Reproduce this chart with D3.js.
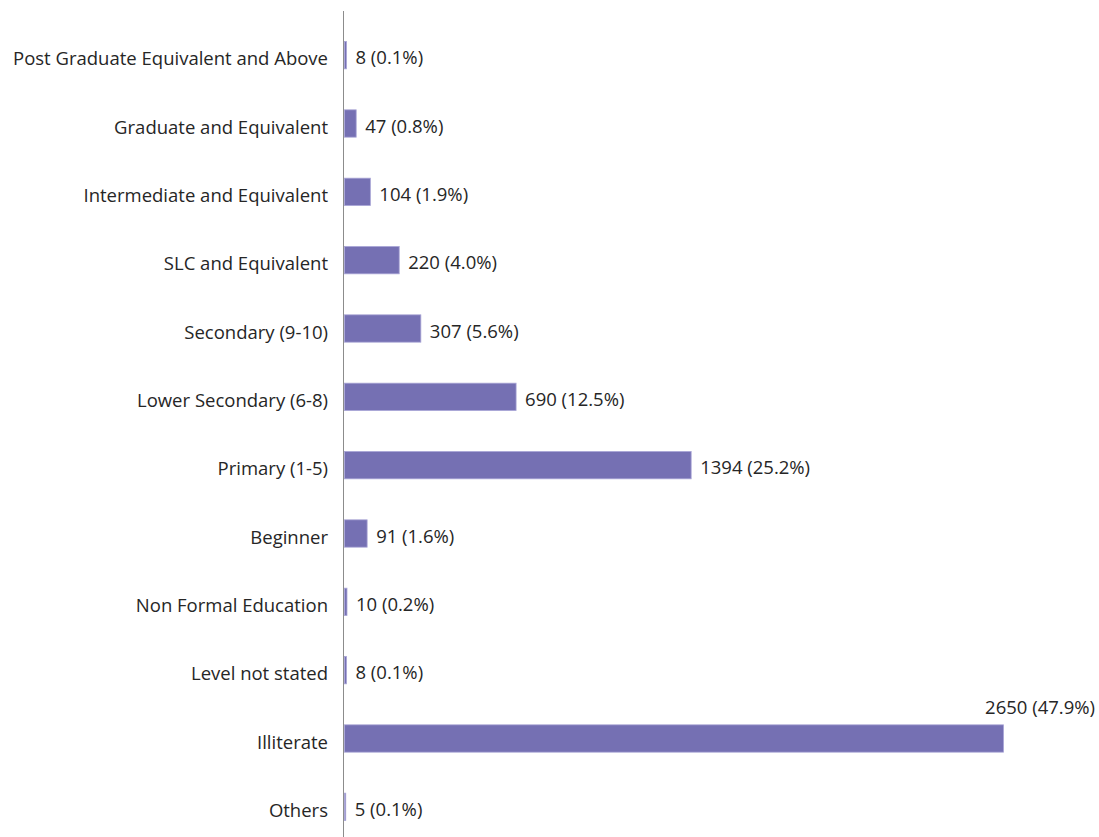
<!DOCTYPE html>
<html>
<head>
<meta charset="utf-8">
<script src="https://cdn.jsdelivr.net/npm/d3@7"></script>
<style>
  body { margin: 0; background: #fff; }
  svg text { font-family: "Open Sans", sans-serif; fill: #262626; }
</style>
</head>
<body>
<svg id="chart"></svg>
<script>
const categories = [
  'Post Graduate Equivalent and Above',
  'Graduate and Equivalent',
  'Intermediate and Equivalent',
  'SLC and Equivalent',
  'Secondary (9-10)',
  'Lower Secondary (6-8)',
  'Primary (1-5)',
  'Beginner',
  'Non Formal Education',
  'Level not stated',
  'Illiterate',
  'Others'
];
const counts = [8, 47, 104, 220, 307, 690, 1394, 91, 10, 8, 2650, 5];
const percents = ['0.1%', '0.8%', '1.9%', '4.0%', '5.6%', '12.5%', '25.2%', '1.6%', '0.2%', '0.1%', '47.9%', '0.1%'];

const width = 1099, height = 837;
const svg = d3.select('#chart').attr('width', width).attr('height', height);

const x = d3.scaleLinear().domain([0, 2650]).range([344.5, 1003.5]);
const y = d3.scaleBand().domain(categories).range([21, 841]).paddingInner(0.6).paddingOuter(0.3);

const data = categories.map((c, i) => ({ cat: c, n: counts[i], pct: percents[i] }));
const maxN = d3.max(counts);

svg.selectAll('.bar')
  .data(data)
  .enter().append('rect')
  .attr('class', 'bar')
  .attr('x', x(0))
  .attr('y', d => y(d.cat))
  .attr('width', d => x(d.n) - x(0))
  .attr('height', y.bandwidth())
  .attr('fill', '#7570b3')
  .attr('stroke', '#a9a5d6')
  .attr('stroke-width', 0.8);

// category labels
svg.selectAll('.cat')
  .data(data)
  .enter().append('text')
  .attr('class', 'cat')
  .attr('x', 328)
  .attr('y', d => y(d.cat) + y.bandwidth() / 2 + 10)
  .attr('text-anchor', 'end')
  .style('font-size', '18.5px')
  .text(d => d.cat);

// value labels (longest bar gets its label above, right aligned)
svg.selectAll('.val')
  .data(data)
  .enter().append('text')
  .attr('class', 'val')
  .attr('x', d => d.n === maxN ? 1095 : x(d.n) + 9)
  .attr('y', d => d.n === maxN ? y(d.cat) - 11 : y(d.cat) + y.bandwidth() / 2 + 9)
  .attr('text-anchor', d => d.n === maxN ? 'end' : 'start')
  .style('font-size', '18.5px')
  .text(d => `${d.n} (${d.pct})`);

// vertical axis line
svg.append('line')
  .attr('x1', 343.5).attr('x2', 343.5)
  .attr('y1', 11).attr('y2', 837)
  .attr('stroke', '#8c8c8c')
  .attr('stroke-width', 1);
</script>
</body>
</html>
